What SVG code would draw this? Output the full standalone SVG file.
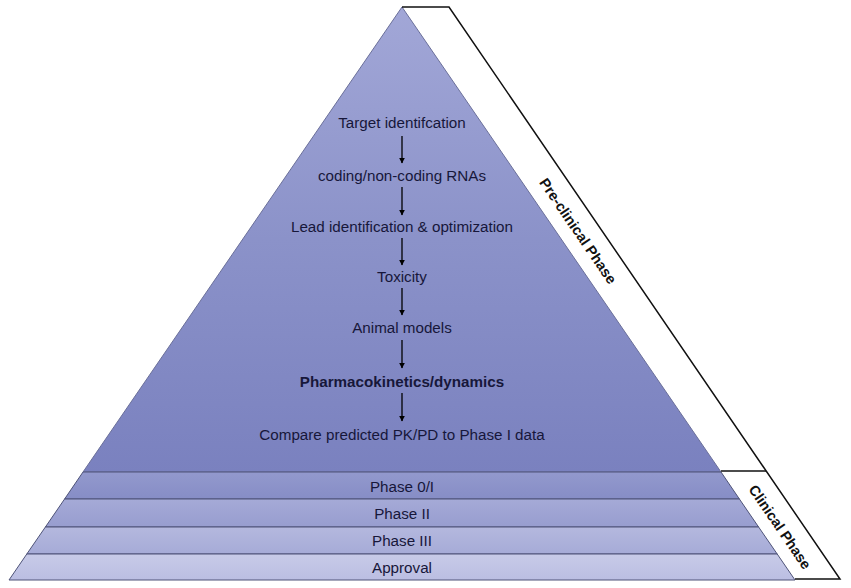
<svg xmlns="http://www.w3.org/2000/svg" width="851" height="588" viewBox="0 0 851 588">
<style>
.lbl{font-family:"Liberation Sans",Arial,sans-serif;font-size:15.2px;fill:#17173a;text-anchor:middle;dominant-baseline:central}
.bold{font-weight:bold}
.side{font-family:"Liberation Sans",Arial,sans-serif;font-size:14.5px;font-weight:bold;fill:#111;text-anchor:middle;dominant-baseline:central}
.layer{stroke:#4e5378;stroke-width:1}
.band{fill:none;stroke:#111;stroke-width:1.5}
.arrow{stroke:#000;stroke-width:1.3;marker-end:url(#ah)}
</style>
<defs>
<linearGradient id="gTri" x1="0" y1="0" x2="0" y2="1">
<stop offset="0" stop-color="#a2a7d7"/>
<stop offset="0.5" stop-color="#8b92c9"/>
<stop offset="1" stop-color="#7a81bf"/>
</linearGradient>
<linearGradient id="g1" x1="0" y1="0" x2="0" y2="1"><stop offset="0" stop-color="#9399cd"/><stop offset="1" stop-color="#868dc6"/></linearGradient>
<linearGradient id="g2" x1="0" y1="0" x2="0" y2="1"><stop offset="0" stop-color="#a5aad7"/><stop offset="1" stop-color="#979dcf"/></linearGradient>
<linearGradient id="g3" x1="0" y1="0" x2="0" y2="1"><stop offset="0" stop-color="#b4b8de"/><stop offset="1" stop-color="#a6abd7"/></linearGradient>
<linearGradient id="g4" x1="0" y1="0" x2="0" y2="1"><stop offset="0" stop-color="#c8cbe8"/><stop offset="1" stop-color="#bbbee2"/></linearGradient>
<marker id="ah" viewBox="0 0 10 10" refX="9" refY="5" markerWidth="6" markerHeight="6" markerUnits="userSpaceOnUse" orient="auto">
<path d="M0,0 L10,5 L0,10 z" fill="#000"/>
</marker>
</defs>
<rect width="851" height="588" fill="#fff"/>

<g id="pyramid">
<polygon points="402,7 83,472 721,472" fill="url(#gTri)" stroke="#6a6f99" stroke-width="1"/>
</g>
<g id="phase0">
<polygon class="layer" points="83,472 721,472 739.4,499 64.6,499" fill="url(#g1)"/>
<text class="lbl" x="402" y="486">Phase 0/I</text>
</g>
<g id="phase2">
<polygon class="layer" points="64.6,499 739.4,499 758.6,527 45.4,527" fill="url(#g2)"/>
<text class="lbl" x="402" y="513">Phase II</text>
</g>
<g id="phase3">
<polygon class="layer" points="45.4,527 758.6,527 777.2,554 26.8,554" fill="url(#g3)"/>
<text class="lbl" x="402" y="540">Phase III</text>
</g>
<g id="approval">
<polygon class="layer" points="26.8,554 777.2,554 795,580 9,580" fill="url(#g4)"/>
<text class="lbl" x="402" y="567">Approval</text>
</g>

<g id="phaseBand">
<polyline class="band" points="402,7 449,7 840,579 795,579"/>
<line class="band" x1="721" y1="471" x2="766" y2="471"/>
</g>
<g id="preclinical">
<text class="side" transform="translate(578,231) rotate(55.6)">Pre-clinical Phase</text>
</g>
<g id="clinical">
<text class="side" transform="translate(780,527) rotate(55.6)">Clinical Phase</text>
</g>

<g id="target"><text class="lbl" x="402" y="122">Target identifcation</text></g>
<g id="rnas"><text class="lbl" x="402" y="175">coding/non-coding RNAs</text></g>
<g id="lead"><text class="lbl" x="402" y="226">Lead identification &amp; optimization</text></g>
<g id="toxicity"><text class="lbl" x="402" y="276">Toxicity</text></g>
<g id="animal"><text class="lbl" x="402" y="327">Animal models</text></g>
<g id="pkpd"><text class="lbl bold" x="402" y="381">Pharmacokinetics/dynamics</text></g>
<g id="compare"><text class="lbl" x="402" y="434">Compare predicted PK/PD to Phase I data</text></g>

<g id="connectors">
<line class="arrow" x1="402" y1="136" x2="402" y2="163"/>
<line class="arrow" x1="402" y1="187" x2="402" y2="215"/>
<line class="arrow" x1="402" y1="238" x2="402" y2="265"/>
<line class="arrow" x1="402" y1="288" x2="402" y2="315"/>
<line class="arrow" x1="402" y1="340" x2="402" y2="368"/>
<line class="arrow" x1="402" y1="393" x2="402" y2="421"/>
</g>
</svg>
